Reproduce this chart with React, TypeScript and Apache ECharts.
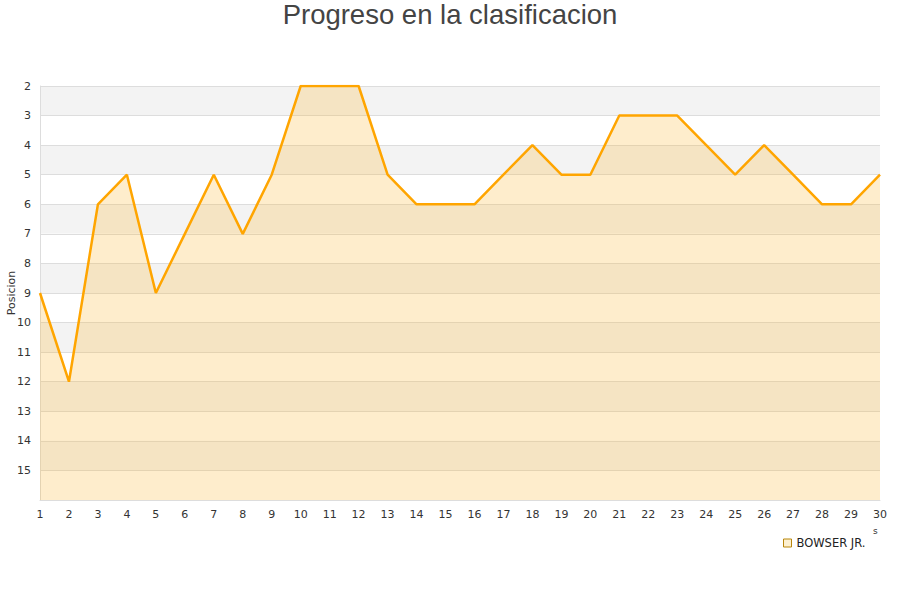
import React, { useEffect, useRef } from "react";
import * as echarts from "echarts";

const jornadas = ["1","2","3","4","5","6","7","8","9","10","11","12","13","14","15","16","17","18","19","20","21","22","23","24","25","26","27","28","29","30"];
const posiciones = [9,12,6,5,9,7,5,7,5,2,2,2,5,6,6,6,5,4,5,5,3,3,3,4,5,4,5,6,6,5];
const serieNombre = "BOWSER JR.";

export default function App() {
  const ref = useRef<HTMLDivElement>(null);
  useEffect(() => {
    const chart = echarts.init(ref.current!, null, { renderer: "svg" });
    chart.setOption({
      animation: false,
      title: {
        text: "Progreso en la clasificacion",
        left: "center",
        top: -5,
        textStyle: { fontFamily: "Liberation Sans", fontSize: 27.5, fontWeight: "normal", color: "#444" },
      },
      legend: {
        data: [{ name: serieNombre, icon: "rect", itemStyle: { color: "#fdf0d0", borderColor: "#b8860b", borderWidth: 1 } }],
        left: 778,
        top: 532,
        itemWidth: 8,
        itemHeight: 8,
        itemGap: 6,
        textStyle: { fontFamily: "DejaVu Sans", fontSize: 11.5, color: "#222" },
      },
      grid: { left: 40, right: 20, top: 86, bottom: 100, containLabel: false, outerBoundsMode: "none" },
      xAxis: {
        type: "category",
        data: jornadas,
        boundaryGap: false,
        axisLine: { lineStyle: { color: "#ddd" } },
        axisTick: { show: false },
        axisLabel: { color: "#333", fontFamily: "DejaVu Sans", fontSize: 11, margin: 9, interval: 0 },
        splitLine: { show: false },
      },
      yAxis: {
        type: "value",
        inverse: true,
        min: 2,
        max: 16,
        interval: 1,
        name: "Posicion",
        nameLocation: "middle",
        nameGap: 23,
        nameMoveOverlap: false,
        nameTextStyle: { fontFamily: "DejaVu Sans", fontSize: 11, color: "#333" },
        axisLine: { show: true, lineStyle: { color: "#ddd" } },
        axisTick: { show: false },
        axisLabel: {
          color: "#333",
          fontFamily: "DejaVu Sans",
          fontSize: 11,
          margin: 9,
          formatter: (v: number) => (v >= 16 ? "" : String(v)),
        },
        splitLine: { show: true, lineStyle: { color: "#ddd" } },
        splitArea: { show: true, areaStyle: { color: ["#f3f3f3", "#ffffff"] } },
      },
      graphic: [
        { type: "text", left: 873, top: 526, style: { text: "s", fontSize: 9, fill: "#333", fontFamily: "DejaVu Sans" } },
      ],
      series: [
        {
          name: serieNombre,
          type: "line",
          data: posiciones,
          symbol: "none",
          lineStyle: { color: "#ffa500", width: 2.5 },
          itemStyle: { color: "#ffa500" },
          areaStyle: { color: "rgba(251,183,51,0.25)", opacity: 1, origin: "end" },
        },
      ],
    });
    return () => chart.dispose();
  }, []);
  return <div ref={ref} style={{ width: 900, height: 600, position: "absolute", left: 0, top: 0 }} />;
}
